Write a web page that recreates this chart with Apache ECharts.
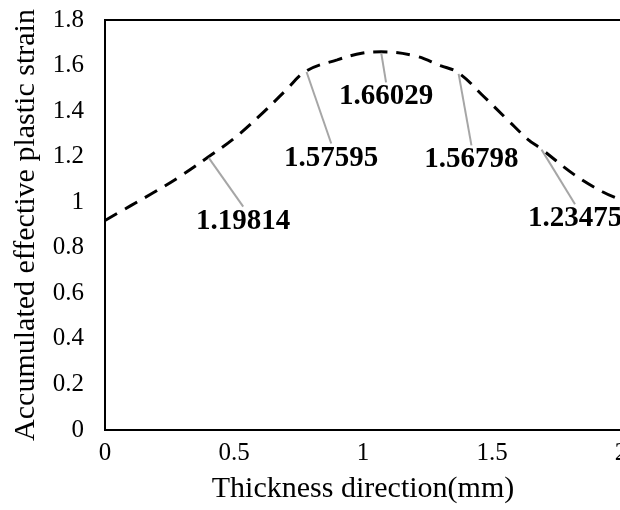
<!DOCTYPE html>
<html>
<head>
<meta charset="utf-8">
<script src="https://cdn.jsdelivr.net/npm/echarts@6/dist/echarts.min.js"></script>
<style>
html,body{margin:0;padding:0;background:#fff;}
#chart{width:620px;height:510px;}
</style>
</head>
<body>
<div id="chart"></div>
<script>
// ---- data ----
const thickness = [0, 0.1, 0.2, 0.3, 0.4, 0.5, 0.6, 0.7, 0.78, 0.9, 1.0, 1.07, 1.2, 1.3, 1.37, 1.47, 1.56, 1.64, 1.69, 1.82, 1.93, 2.0];
const strain    = [0.92, 0.985, 1.05, 1.12, 1.19814, 1.28, 1.38, 1.49, 1.57595, 1.625, 1.655, 1.66029, 1.643, 1.60, 1.56798, 1.462, 1.362, 1.275, 1.23475, 1.12, 1.045, 1.01];
const labeledX      = [0.4, 0.78, 1.07, 1.37, 1.69];
const labeledValues = [1.19814, 1.57595, 1.66029, 1.56798, 1.23475];
const xTicks = [0, 0.5, 1, 1.5, 2];
const yTicks = [0, 0.2, 0.4, 0.6, 0.8, 1, 1.2, 1.4, 1.6, 1.8];
const xTitle = 'Thickness direction(mm)';
const yTitle = 'Accumulated effective plastic strain';

// label offsets (pixels) - layout only
const labelOffsets = [[35, 64], [25, 87], [5, 45], [13, 87], [34, 70]];

const chart = echarts.init(document.getElementById('chart'), null, {renderer: 'canvas'});
const font = '"Liberation Serif", "Times New Roman", serif';

chart.setOption({
  animation: false,
  backgroundColor: '#fff',
  grid: {
    left: 105, top: 20, width: 516, height: 410,
    outerBoundsMode: 'none', containLabel: false,
    show: true, borderColor: '#000', borderWidth: 2, backgroundColor: 'transparent'
  },
  xAxis: {
    type: 'value', min: xTicks[0], max: xTicks[xTicks.length - 1], interval: 0.5,
    axisLine: {show: true, lineStyle: {color: '#000', width: 2}},
    axisTick: {show: false},
    splitLine: {show: false},
    axisLabel: {color: '#000', fontFamily: font, fontSize: 25, margin: 11,
      formatter: v => String(+v.toFixed(2))},
    name: xTitle, nameLocation: 'middle', nameGap: 44,
    nameTextStyle: {color: '#000', fontFamily: font, fontSize: 30}
  },
  yAxis: {
    type: 'value', min: yTicks[0], max: yTicks[yTicks.length - 1], interval: 0.2,
    axisLine: {show: true, lineStyle: {color: '#000', width: 2}},
    axisTick: {show: false},
    splitLine: {show: false},
    axisLabel: {color: '#000', fontFamily: font, fontSize: 25, margin: 21,
      formatter: v => String(+v.toFixed(2))},
    name: yTitle, nameLocation: 'middle', nameGap: 64, nameRotate: 90,
    nameTextStyle: {color: '#000', fontFamily: font, fontSize: 30}
  },
  series: [
    {
      type: 'line',
      data: thickness.map((x, i) => [x, strain[i]]),
      smooth: 0.4,
      showSymbol: false,
      symbol: 'none',
      lineStyle: {color: '#000', width: 3, type: [14, 9]},
      z: 3
    },
    {
      type: 'scatter',
      data: labeledX.map((x, i) => [x, labeledValues[i]]),
      symbolSize: 2,
      itemStyle: {color: 'rgba(0,0,0,0)', opacity: 1},
      label: {
        show: true, position: 'inside',
        formatter: p => String(labeledValues[p.dataIndex]),
        color: '#000', textBorderWidth: 0, fontFamily: font, fontWeight: 'bold', fontSize: 29,
        padding: [10, 0, 0, 0]
      },
      labelLine: {show: true, length2: 0, lineStyle: {color: '#a6a6a6', width: 2, opacity: 1}},
      labelLayout: p => ({dx: labelOffsets[p.dataIndex][0], dy: labelOffsets[p.dataIndex][1]}),
      z: 4
    }
  ]
});
</script>
</body>
</html>
